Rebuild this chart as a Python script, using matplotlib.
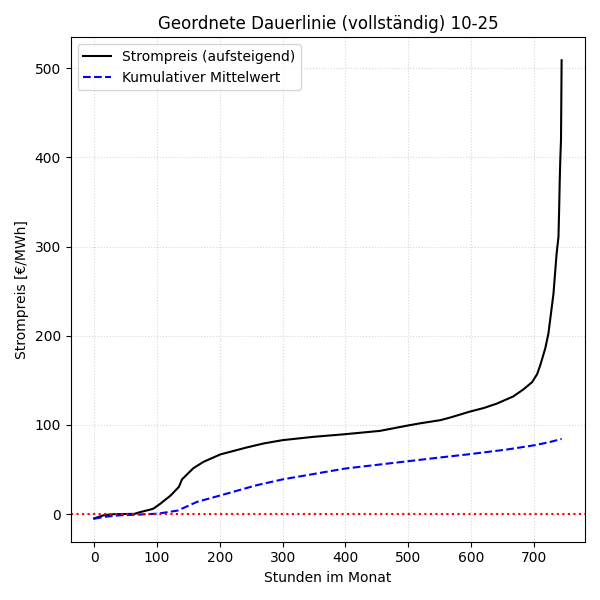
import numpy as np
import matplotlib
matplotlib.use("Agg")
import matplotlib.pyplot as plt

# sortierte Preise, Stunde -> €/MWh
price_hours = [0, 16, 32, 64, 75, 90, 95, 106, 122, 135, 140, 150, 158, 174,
               201, 243, 270, 300, 349, 400, 455, 500, 520, 551, 567, 598,
               620, 641, 667, 683, 697, 705, 710, 718, 723, 731, 736, 739,
               740, 741, 742, 743, 744]
price_values = [-4.8, -1.1, 0.0, 0.3, 2.6, 5.2, 6.4, 12.0, 21.0, 30.6, 39.0,
                46.0, 51.5, 58.6, 67.0, 74.8, 79.3, 83.0, 86.7, 89.7, 93.4,
                99.5, 102.0, 105.4, 108.4, 115.0, 119.0, 124.0, 132.0, 139.8,
                148.0, 157.0, 167.0, 186.0, 202.6, 247.0, 292.0, 311.0, 340.0,
                374.0, 400.0, 419.0, 509.0]

# kumulativer Mittelwert
mean_hours = [0, 16, 42, 64, 101, 133, 164, 201, 259, 300, 376, 400, 500,
              551, 598, 657, 702, 726, 744]
mean_values = [-5.2, -3.0, -1.2, -0.7, 0.5, 4.0, 13.8, 21.0, 32.5, 39.0,
               48.3, 51.2, 59.4, 63.6, 67.3, 72.5, 77.4, 81.0, 84.4]


fig, ax = plt.subplots(figsize=(6, 6), dpi=100)
ax.plot(price_hours, price_values, color='black', linewidth=1.5,
        label='Strompreis (aufsteigend)')
ax.plot(mean_hours, mean_values, color='blue', linestyle='--', linewidth=1.5,
        label='Kumulativer Mittelwert')
ax.axhline(0, color='red', linestyle=':', linewidth=1.5)
ax.set_title('Geordnete Dauerlinie (vollständig) 10-25')
ax.set_xlabel('Stunden im Monat')
ax.set_ylabel('Strompreis [€/MWh]')
ax.grid(True, linestyle=':', alpha=0.5)
ax.legend(loc='upper left')
plt.tight_layout()
plt.savefig('out.png')
